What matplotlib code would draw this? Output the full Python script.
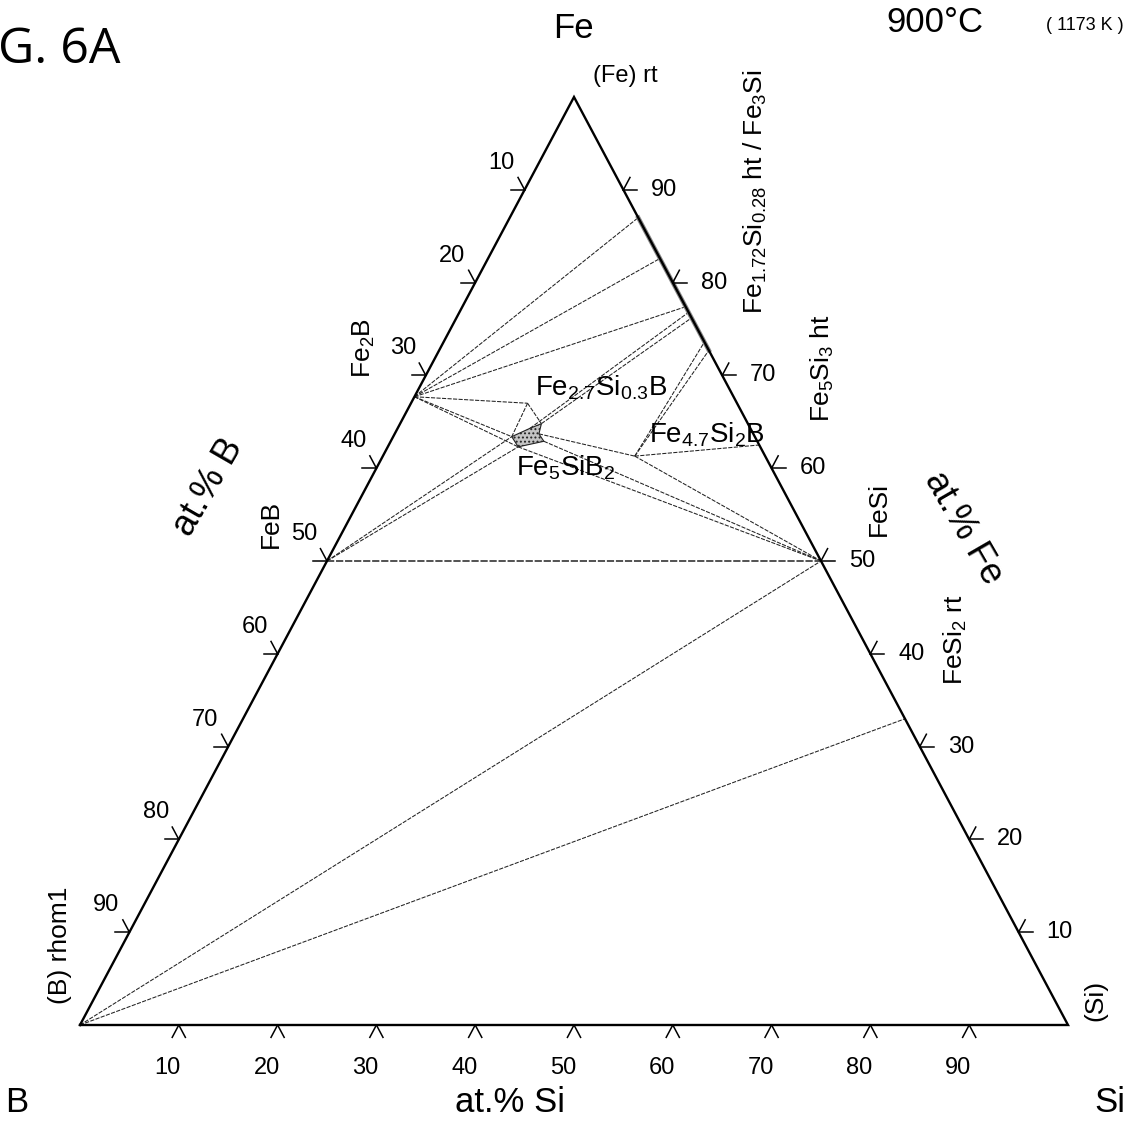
import numpy as np
import matplotlib
matplotlib.use("Agg")
import matplotlib.pyplot as plt
from matplotlib.patches import Polygon, Ellipse

plt.rcParams['font.family'] = ['Liberation Sans', 'DejaVu Sans']
plt.rcParams['mathtext.default'] = 'regular'
plt.rcParams['hatch.linewidth'] = 0.9

# ---------------- data: compositions in at.% (Fe, Si); B is the balance ----------------
tick_values = [10, 20, 30, 40, 50, 60, 70, 80, 90]

fe2b = (67.7, 0.0)
feb = (50.0, 0.0)
fe27si03b = (67.0, 11.8)
fe47si2b = (61.3, 25.5)
fe5si3 = (62.5, 37.5)
fesi = (50.0, 50.0)
fesi2 = (33.0, 67.0)
b_corner = (0.0, 0.0)

# Fe contents on the Fe-Si binary edge where tie lines end
edge_fe = [87.0, 82.6, 77.4, 76.8, 76.2, 73.6, 72.7]
# extent of the (Fe)/Fe3Si single-phase range along the Fe-Si edge
fe_ss_range = (72.7, 87.0)

# Fe5SiB2 homogeneity region
fe5sib2_fe = [63.4, 64.3, 64.8, 63.7, 62.9, 62.3]
fe5sib2_si = [12.0, 13.4, 14.3, 14.6, 15.5, 13.2]

# hatched marker inside the Fe2B + (Fe) + Fe3Si field
marker_fe, marker_si = 82.1, 12.4


def edge(fe):
    return (fe, 100.0 - fe)


def pv(i):
    return (fe5sib2_fe[i], fe5sib2_si[i])


tie_lines = [
    (fe2b, edge(edge_fe[0])), (fe2b, edge(edge_fe[1])), (fe2b, edge(edge_fe[2])),
    (fe2b, fe27si03b), (fe2b, pv(0)), (fe2b, pv(5)),
    (fe27si03b, pv(0)), (fe27si03b, pv(2)),
    (feb, pv(0)), (feb, pv(5)),
    (pv(1), edge(edge_fe[3])), (pv(2), edge(edge_fe[4])),
    (pv(3), fe47si2b), (pv(4), fesi), (pv(5), fesi),
    (fe47si2b, fesi), (fe47si2b, edge(edge_fe[5])), (fe47si2b, edge(edge_fe[6])),
    (fe47si2b, fe5si3),
    (b_corner, fesi), (b_corner, fesi2),
]
# the FeB-FeSi tie line is drawn heavier
main_tie = (feb, fesi)

# ---------------- figure layout ----------------
W, H = 1143, 1125
BX, BY = 80, 1025          # B corner in pixels
SIDE, HEIGHT = 988, 928     # triangle base and height in pixels
sx, sy = SIDE / 100.0, HEIGHT / 100.0

fig = plt.figure(figsize=(W / 100, H / 100), dpi=100)
ax = fig.add_axes([0, 0, 1, 1])
ax.set_xlim(-BX / sx, (W - BX) / sx)
ax.set_ylim((BY - H) / sy, BY / sy)
ax.axis('off')


def xy(fe, si):
    fe = np.asarray(fe, float)
    si = np.asarray(si, float)
    return si + fe / 2.0, fe


def px(x, y):
    """pixel position -> data coordinates (for text placement)"""
    return (x - BX) / sx, (BY - y) / sy


def pvec(dx, dy):
    return dx / sx, -dy / sy


# triangle outline
tri_x, tri_y = xy([0, 100, 0, 0], [0, 0, 100, 0])
ax.plot(tri_x, tri_y, color='black', lw=1.7, solid_joinstyle='miter', zorder=5)
# single-phase range along the Fe-Si edge
sx0, sy0 = xy(list(fe_ss_range), [100 - fe_ss_range[0], 100 - fe_ss_range[1]])
ax.plot(sx0, sy0, color='#8a8a8a', lw=3.2, zorder=4)

# tie lines
for (a, b) in tie_lines:
    lx, ly = xy([a[0], b[0]], [a[1], b[1]])
    ax.plot(lx, ly, color='#222222', lw=0.75, ls=(0, (4, 1.3)), zorder=3)
lx, ly = xy([main_tie[0][0], main_tie[1][0]], [main_tie[0][1], main_tie[1][1]])
ax.plot(lx, ly, color='#444444', lw=1.3, ls=(0, (4, 1.0)), zorder=3)

# Fe5SiB2 region
poly_x, poly_y = xy(fe5sib2_fe, fe5sib2_si)
ax.add_patch(Polygon(np.column_stack([poly_x, poly_y]), closed=True,
                     facecolor='#c4c4c4', edgecolor='#222222', lw=0.8,
                     hatch='....', zorder=4))

# hatched marker
mx, my = xy(marker_fe, marker_si)
ax.add_patch(Ellipse((mx, my), 13 / sx, 14 / sy, facecolor='white',
                     edgecolor='none', hatch='//////', zorder=4))

# ---------------- ticks ----------------
TL = 14.0
rdir = np.array([494.0, 928.0]) / np.hypot(494, 928)   # along Fe->Si edge (pixel, y down)
ldir = np.array([494.0, -928.0]) / np.hypot(494, 928)  # along B->Fe edge


def tick(p, dirs):
    for d in dirs:
        dx, dy = pvec(d[0] * TL, d[1] * TL)
        ax.plot([p[0], p[0] + dx], [p[1], p[1] + dy], color='black', lw=1.1, zorder=5)


TICK_FS = 17
for v in tick_values:
    # Si axis (bottom)
    p = xy(0, v)
    tick(p, [(-ldir[0], -ldir[1]), (rdir[0], rdir[1])])
    o = pvec(-11, 43)
    ax.text(p[0] + o[0], p[1] + o[1], str(v), fontsize=TICK_FS, ha='center', va='center')
    # B axis (left)
    p = xy(100 - v, 0)
    tick(p, [(-1, 0), (-rdir[0], -rdir[1])])
    o = pvec(-23, -27)
    ax.text(p[0] + o[0], p[1] + o[1], str(v), fontsize=TICK_FS, ha='center', va='center')
    # Fe axis (right)
    p = xy(v, 100 - v)
    tick(p, [(1, 0), (ldir[0], ldir[1])])
    o = pvec(41, 0)
    ax.text(p[0] + o[0], p[1] + o[1], str(v), fontsize=TICK_FS, ha='center', va='center')

# ---------------- labels ----------------
def label(x, y, s, size, rot=0, **kw):
    ax.text(*px(x, y), s, fontsize=size, rotation=rot, ha='center', va='center',
            rotation_mode='anchor', **kw)


label(573, 28, 'Fe', 25)
label(935, 22, '900°C', 25)
label(1085, 25, '( 1173 K )', 13)
ax.text(*px(-2, 50), 'G. 6A', fontsize=36, ha='left', va='center',
        family=['Open Sans', 'DejaVu Sans'])
label(625, 76, '(Fe) rt', 17)
label(17, 1103, 'B', 25)
label(510, 1103, 'at.% Si', 25)
label(1110, 1103, 'Si', 25)
label(208, 487, 'at.% B', 26, rot=60)
label(963, 528, 'at.% Fe', 26, rot=-60)

VFS = 19
label(755, 192, r'Fe$_{1.72}$Si$_{0.28}$ ht / Fe$_3$Si', VFS, rot=90)
label(822, 368, r'Fe$_5$Si$_3$ ht', VFS, rot=90)
label(879, 509, 'FeSi', VFS, rot=90)
label(955, 640, r'FeSi$_2$ rt', VFS, rot=90)
label(1095, 1000, '(Si)', VFS, rot=90)
label(60, 945, '(B) rhom1', VFS, rot=90)
label(364, 348, r'Fe$_2$B', VFS, rot=90)
label(271, 524, 'FeB', VFS, rot=90)

label(601, 388, r'Fe$_{2.7}$Si$_{0.3}$B', 20)
label(707, 435, r'Fe$_{4.7}$Si$_2$B', 20)
label(566, 468, r'Fe$_5$SiB$_2$', 20)

fig.savefig('out.png', dpi=100, facecolor='white')
